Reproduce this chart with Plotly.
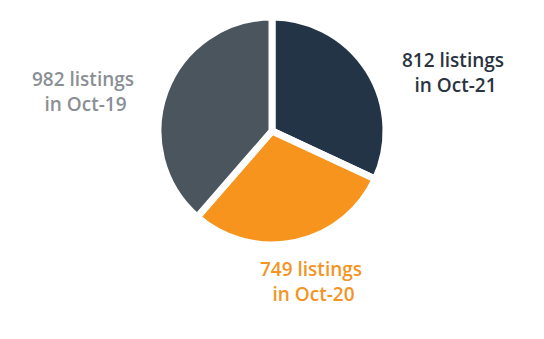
import plotly.graph_objects as go

labels = ["Oct-21", "Oct-20", "Oct-19"]
values = [812, 749, 982]
colors = ["#233446", "#F7941D", "#4B555E"]
text_colors = ["#2A3340", "#F39425", "#8A8F95"]
label_pos = [(0.832, 0.786), (0.572, 0.17), (0.152, 0.73)]

W, H = 544, 339
cx, cy, r = 272, 131, 114
fig = go.Figure(go.Pie(
    labels=labels, values=values, sort=False, direction="clockwise", rotation=0,
    marker=dict(colors=colors, line=dict(color="white", width=7)),
    textinfo="none", hoverinfo="label+value", showlegend=False,
    domain=dict(x=[(cx - r) / W, (cx + r) / W], y=[1 - (cy + r) / H, 1 - (cy - r) / H]),
))

for lab, v, c, (x, y) in zip(labels, values, text_colors, label_pos):
    fig.add_annotation(
        x=x, y=y, xref="paper", yref="paper", showarrow=False,
        xanchor="center", yanchor="middle",
        text=f"{v} listings<br> in {lab}", align="center",
        font=dict(family="Open Sans", size=19, color=c, weight=600),
    )

fig.update_layout(
    width=W, height=H, margin=dict(l=0, r=0, t=0, b=0),
    paper_bgcolor="white", plot_bgcolor="white",
)
fig.write_html("out.html")
